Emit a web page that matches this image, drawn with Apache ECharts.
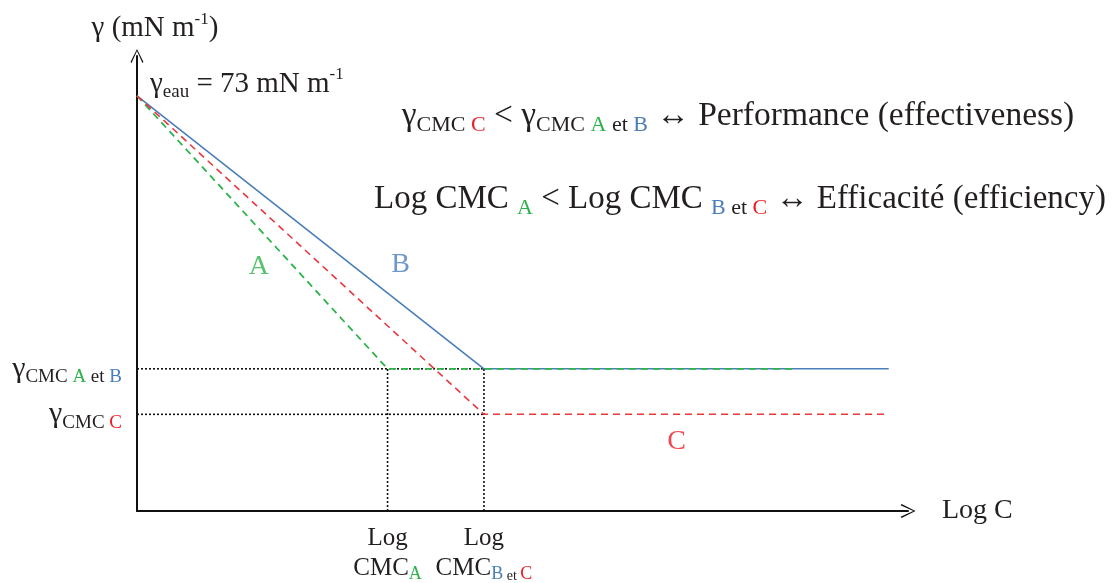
<!DOCTYPE html>
<html>
<head>
<meta charset="utf-8">
<script src="https://cdn.jsdelivr.net/npm/echarts@6/dist/echarts.min.js"></script>
<style>
  html, body { margin: 0; padding: 0; background: #fff; }
  #chart { width: 1113px; height: 583px; }
</style>
</head>
<body>
<div id="chart"></div>
<script>
// schematic surface tension curves (x = log C, arbitrary units; y = mN/m)
let gammaEau = 73;
let gammaCmcAB = 25;
let gammaCmcC = 17;
let logCmcA = 32.5;
let logCmcBC = 45;
let xEndA = 85;
let xEndBC = 97.5;

let curveA = [[0, gammaEau], [logCmcA, gammaCmcAB], [xEndA, gammaCmcAB]];
let curveB = [[0, gammaEau], [logCmcBC, gammaCmcAB], [xEndBC, gammaCmcAB]];
let curveC = [[0, gammaEau], [logCmcBC, gammaCmcC], [xEndBC, gammaCmcC]];

let guideLines = [
    [[0, gammaCmcAB], [logCmcBC, gammaCmcAB]],
    [[0, gammaCmcC], [logCmcBC, gammaCmcC]],
    [[logCmcA, 0], [logCmcA, gammaCmcAB]],
    [[logCmcBC, 0], [logCmcBC, gammaCmcAB]]
];

let curveLabels = [
    { name: 'A', value: [15.8, 43], color: '#2DB34A' },
    { name: 'B', value: [34.2, 43.3], color: '#4A7EBB' },
    { name: 'C', value: [70, 12.2], color: '#ED1C24' }
];

const GREEN = '#2DB34A', BLUE = '#4A7EBB', RED = '#ED1C24', INK = '#231F20';
const SERIF = '"Liberation Serif", "DejaVu Serif", serif';

// rich text styles; color for axis labels, fill for graphic text
function richStyles(size, subRatio) {
    let sub = Math.round(size * (subRatio || 0.64));
    let lh = Math.round(size * 1.2);
    let s = {
        m: { fontSize: size, fontFamily: SERIF, color: INK, fill: INK, lineHeight: lh },
        s: { fontSize: sub, fontFamily: SERIF, color: INK, fill: INK, verticalAlign: 'bottom', lineHeight: Math.round(sub * 1.25) },
        sup: { fontSize: sub - 2, fontFamily: SERIF, color: INK, fill: INK, verticalAlign: 'top', lineHeight: sub }
    };
    s.sg = Object.assign({}, s.s, { color: GREEN, fill: GREEN });
    s.sb = Object.assign({}, s.s, { color: BLUE, fill: BLUE });
    s.sr = Object.assign({}, s.s, { color: RED, fill: RED });
    return s;
}

const arrowPath = 'path://M0,10 L5,0 L10,10 L9.2,10.8 L5,1.6 L0.8,10.8 Z';

let chart = echarts.init(document.getElementById('chart'));
let option = {
    animation: false,
    grid: { left: 137, right: 205, top: 56, bottom: 67 },
    xAxis: {
        type: 'value',
        min: 0,
        max: 100,
        name: 'Log C',
        nameLocation: 'end',
        nameGap: 34,
        nameTextStyle: { fontFamily: SERIF, fontSize: 28, color: INK, padding: [14, 0, 0, 0] },
        axisLine: {
            lineStyle: { color: '#111', width: 2 },
            symbol: ['none', arrowPath],
            symbolSize: [17, 15]
        },
        axisTick: { show: false },
        splitLine: { show: false },
        axisLabel: {
            customValues: [logCmcA, logCmcBC],
            margin: 12,
            formatter: function (v) {
                return v === logCmcA
                    ? '{m|Log}\n{m|CMC}{sg|A}'
                    : '{m|Log}\n{m|CMC}{sb|B}{e| et }{sr|C}';
            },
            rich: Object.assign(richStyles(25, 0.72), {
                e: { fontSize: 14, fontFamily: SERIF, color: INK, verticalAlign: 'bottom', lineHeight: 20 }
            })
        }
    },
    yAxis: {
        type: 'value',
        min: 0,
        max: 80,
        name: '{m|γ (mN m}{sup|-1}{m|)}',
        nameLocation: 'end',
        nameGap: 10,
        nameTextStyle: { align: 'center', padding: [0, 0, 0, 36], rich: richStyles(29) },
        axisLine: {
            lineStyle: { color: '#111', width: 2 },
            symbol: ['none', arrowPath],
            symbolSize: [17, 14]
        },
        axisTick: { show: false },
        splitLine: { show: false },
        axisLabel: {
            customValues: [gammaCmcC, gammaCmcAB],
            margin: 15,
            formatter: function (v) {
                return v === gammaCmcAB
                    ? '{m|γ}{s|CMC }{sg|A}{s| et }{sb|B}'
                    : '{m|γ}{s|CMC }{sr|C}';
            },
            rich: richStyles(30)
        }
    },
    graphic: [
        {
            type: 'text', x: 150, y: 84,
            style: {
                text: '{m|γ}{s|eau}{m| = 73 mN m}{sup|-1}',
                verticalAlign: 'middle', rich: richStyles(29)
            }
        },
        {
            type: 'text', x: 738, y: 116,
            style: {
                text: '{m|γ}{s|CMC }{sr|C}{m| < γ}{s|CMC }{sg|A}{s| et }{sb|B}{m| ↔ Performance (effectiveness)}',
                align: 'center', verticalAlign: 'middle', rich: richStyles(33.5, 0.66)
            }
        },
        {
            type: 'text', x: 740, y: 199,
            style: {
                text: '{m|Log CMC }{sg|A}{m| < Log CMC }{sb|B}{s| et }{sr|C}{m| ↔ Efficacité (efficiency)}',
                align: 'center', verticalAlign: 'middle', rich: richStyles(33, 0.66)
            }
        }
    ],
    series: [
        {
            type: 'line', data: guideLines[0], symbol: 'none', z: 1,
            lineStyle: { color: '#111', width: 1.6, type: [2, 2] }
        },
        {
            type: 'line', data: guideLines[1], symbol: 'none', z: 1,
            lineStyle: { color: '#111', width: 1.6, type: [2, 2] }
        },
        {
            type: 'line', data: guideLines[2], symbol: 'none', z: 1,
            lineStyle: { color: '#111', width: 1.6, type: [2, 2] }
        },
        {
            type: 'line', data: guideLines[3], symbol: 'none', z: 1,
            lineStyle: { color: '#111', width: 1.6, type: [2, 2] }
        },
        {
            name: 'B', type: 'line', data: curveB, symbol: 'none', z: 2,
            lineStyle: { color: BLUE, width: 1.6 }
        },
        {
            name: 'A', type: 'line', data: curveA, symbol: 'none', z: 3,
            lineStyle: { color: GREEN, width: 1.8, type: [7, 5] }
        },
        {
            name: 'C', type: 'line', data: curveC, symbol: 'none', z: 3,
            lineStyle: { color: '#E8383D', width: 1.6, type: [7, 5] }
        },
        {
            type: 'scatter', symbolSize: 0, z: 4,
            data: curveLabels.map(function (d) {
                return {
                    name: d.name, value: d.value,
                    label: { color: d.color }
                };
            }),
            label: {
                show: true, position: 'inside', formatter: '{b}',
                fontFamily: SERIF, fontSize: 28
            }
        }
    ]
};
chart.setOption(option);
</script>
</body>
</html>
